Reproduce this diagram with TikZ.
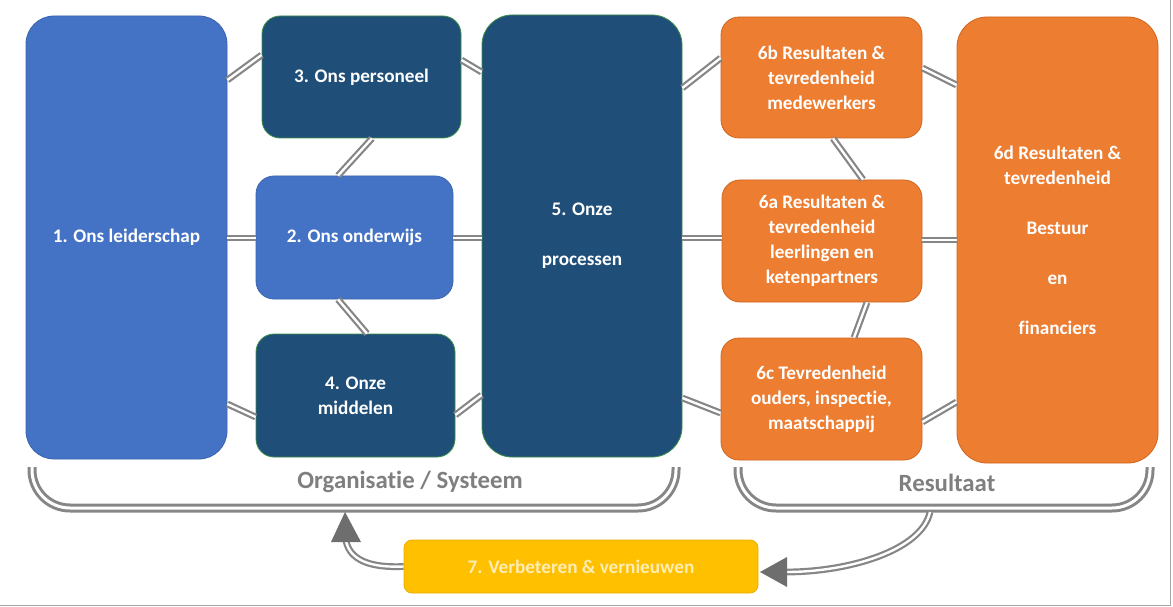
\documentclass[tikz,border=0pt]{standalone}
\usepackage{fontspec}
\setmainfont[RawFeature=-liga, RawFeature=-clig, RawFeature=-calt, RawFeature=-dlig]{Carlito}
\usetikzlibrary{calc}
\definecolor{lblue}{HTML}{4472C4}
\definecolor{lblueb}{HTML}{3A64AE}
\definecolor{dblue}{HTML}{1F4E79}
\definecolor{dgreen}{HTML}{3E8E4A}
\definecolor{orng}{HTML}{ED7D31}
\definecolor{orngb}{HTML}{D0651D}
\definecolor{yel}{HTML}{FFC000}
\definecolor{yelb}{HTML}{E8AE00}
\definecolor{yeltext}{HTML}{FFEDB3}
\definecolor{lgray}{HTML}{7F7F7F}
\definecolor{cgray}{HTML}{868686}
\definecolor{agray}{HTML}{6E6E6E}
\tikzset{
  box/.style={rectangle, text=white, align=center, inner sep=0pt, line width=0.8pt,
    font=\fontsize{19.2}{25}\selectfont\bfseries},
  lb/.style={box, fill=lblue, draw=lblueb},
  db/.style={box, fill=dblue, draw=dgreen},
  ob/.style={box, fill=orng, draw=orngb},
  yb/.style={box, fill=yel, draw=yelb, text=yeltext},
  dline/.style={draw=cgray, line width=2.2pt, double=white, double distance=2.4pt},
  bline/.style={draw=cgray, line width=3pt, double=white, double distance=3pt, rounded corners=38pt},
  lab/.style={text=lgray, font=\fontsize{24.8}{28}\selectfont\bfseries},
}
\begin{document}
\begin{tikzpicture}[x=1pt,y=-1pt]
\useasboundingbox (0,0) rectangle (1173,607);
\fill[white] (0,0) rectangle (1173,607);
% frame lines
\draw[gray!70, line width=1.2pt] (0,605.5) -- (1170.5,605.5) -- (1170.5,0);

% boxes
\node[lb, rounded corners=28pt, minimum width=201pt, minimum height=443pt] (b1) at (126.5,237.5) {1. Ons leiderschap};
\node[db, rounded corners=18pt, minimum width=199pt, minimum height=122pt] (b3) at (361.5,77) {3. Ons personeel};
\node[lb, rounded corners=18pt, minimum width=197pt, minimum height=123pt] (b2) at (354.5,237.5) {2. Ons onderwijs};
\node[db, rounded corners=18pt, minimum width=199pt, minimum height=123pt] (b4) at (355.5,395.5) {4. Onze\\middelen};
\node[db, rounded corners=30pt, minimum width=200pt, minimum height=442pt] (b5) at (582,236) {5. Onze\\[25pt]processen};
\node[ob, rounded corners=18pt, minimum width=201pt, minimum height=121pt] (b6b) at (821.5,77.5) {6b Resultaten \&\\tevredenheid\\medewerkers};
\node[ob, rounded corners=18pt, minimum width=200pt, minimum height=122pt] (b6a) at (822,241) {6a Resultaten \&\\tevredenheid\\leerlingen en\\ketenpartners};
\node[ob, rounded corners=18pt, minimum width=201pt, minimum height=122pt] (b6c) at (821.5,399) {6c Tevredenheid\\ouders, inspectie,\\maatschappij};
\node[ob, rounded corners=30pt, minimum width=201pt, minimum height=446pt] (b6d) at (1057.5,240) {6d Resultaten \&\\tevredenheid\\[25pt]Bestuur\\[25pt]en\\[25pt]financiers};
\node[yb, rounded corners=8pt, minimum width=354pt, minimum height=53pt] (b7) at (581,566.5) {7. Verbeteren \& vernieuwen};

% connectors
\draw[dline] (b1.east |- 0,80) -- (b3.west |- 0,55);
\draw[dline] (b1.east |- 0,238) -- (b2.west |- 0,238);
\draw[dline] (b1.east |- 0,404) -- (b4.west |- 0,417);
\draw[dline] (b3.south -| 372,0) -- (b2.north -| 338,0);
\draw[dline] (b2.south -| 338,0) -- (b4.north -| 367,0);
\draw[dline] (b3.east |- 0,60) -- (b5.west |- 0,72);
\draw[dline] (b2.east |- 0,238) -- (b5.west |- 0,238);
\draw[dline] (b4.east |- 0,415) -- (b5.west |- 0,395);
\draw[dline] (b5.east |- 0,88) -- (b6b.west |- 0,58);
\draw[dline] (b5.east |- 0,238) -- (b6a.west |- 0,238);
\draw[dline] (b5.east |- 0,398) -- (b6c.west |- 0,413);
\draw[dline] (b6b.south -| 833,0) -- (b6a.north -| 863,0);
\draw[dline] (b6a.south -| 867,0) -- (b6c.north -| 854,0);
\draw[dline] (b6b.east |- 0,68) -- (b6d.west |- 0,85);
\draw[dline] (b6a.east |- 0,240) -- (b6d.west |- 0,240);
\draw[dline] (b6c.east |- 0,422) -- (b6d.west |- 0,402);

% braces
\draw[bline] (32,467) |- (676,508) -- (676,467);
\draw[bline] (738,467) |- (1150,508) -- (1150,467);
\node[lab] (lorg) at (410,482) {Organisatie / Systeem};
\node[lab] (lres) at (947,483) {Resultaat};

% feedback arrows
\coordinate (ltip) at (345,512);
\coordinate (lbase) at (346,541);
\coordinate (rstart) at (930,512);
\coordinate (rbase) at (786,572);
\coordinate (rtip) at (760,572);
\draw[dline] (b7.west) .. controls (370,568) and (350,560) .. (lbase);
\fill[agray] (ltip) -- (331,542) -- (361,542) -- cycle;
\draw[dline] (rstart) .. controls (922,550) and (850,572) .. (rbase);
\fill[agray] (rtip) -- (787,557) -- (787,587) -- cycle;
\end{tikzpicture}
\end{document}
